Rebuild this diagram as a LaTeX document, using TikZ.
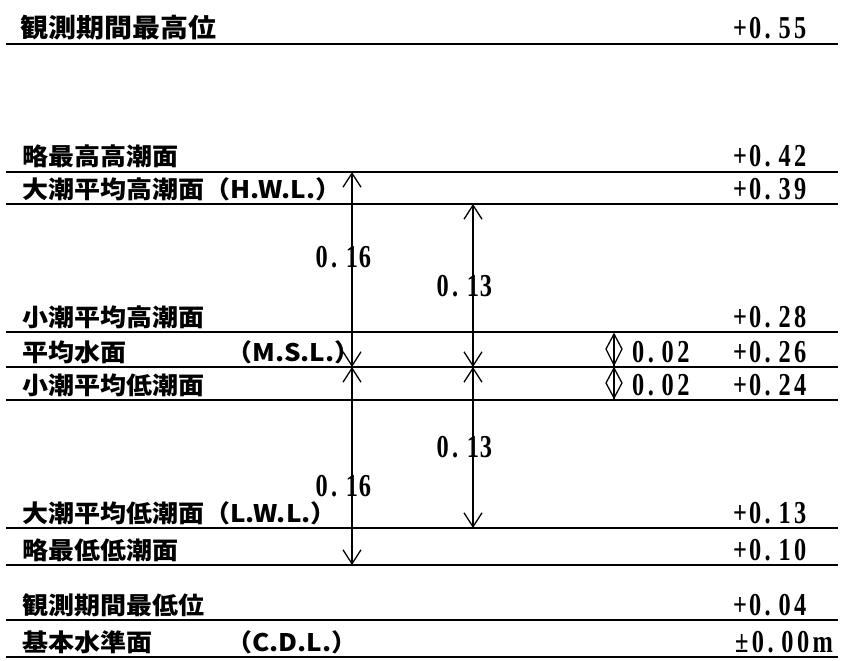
\documentclass[tikz,border=0pt]{standalone}
\usepackage{fontspec}
\usepackage{graphicx}
\usetikzlibrary{arrows.meta}
\newfontfamily\jpfont{Noto Sans CJK JP}
\newfontfamily\numfont{Liberation Serif}[LetterSpace=14]
\newcommand{\jtxt}[2][26]{\scalebox{1}[0.93]{\fontsize{#1}{#1}\selectfont\jpfont\bfseries #2}}
\newcommand{\ntxt}[1]{\scalebox{0.87}[1.14]{\fontsize{28}{28}\selectfont\numfont\bfseries #1}}
\newcommand{\dotgap}{\hspace{0.32em}}
\newcommand{\pl}{+\hspace{0.08em}}
\begin{document}
\begin{tikzpicture}[x=1pt,y=-1pt,
  lvl/.style={line width=1.5pt},
  dimline/.style={line width=1.8pt,
    {Straight Barb[length=14pt,width=18pt,line width'=1.3pt]}-{Straight Barb[length=14pt,width=18pt,line width'=1.3pt]}},
  lab/.style={anchor=south west,inner sep=0pt},
  numlab/.style={anchor=center,inner sep=0pt},
  diam/.style={line width=1.3pt}
  ]
\fill[white] (0,0) rectangle (843,661);
\useasboundingbox (0,0) rectangle (843,661);
% level lines
\foreach \n/\y in {1/44,2/172,3/204,4/332,5/367,6/400,7/528,8/565,9/620,10/657}{
  \coordinate (L\n) at (6,\y);
  \coordinate (R\n) at (838,\y);
  \coordinate (A\n) at (352,\y);
  \coordinate (B\n) at (473,\y);
}
\foreach \n in {1,...,10} \draw[lvl] (L\n) -- (R\n);
% left labels
\node[lab] (t1) at (20,40) {\jtxt[28]{観測期間最高位}};
\node[lab] (t2) at (22,168) {\jtxt{略最高高潮面}};
\node[lab] (t3) at (22,201) {\jtxt{大潮平均高潮面（H.W.L.）}};
\node[lab] (t4) at (22,329) {\jtxt{小潮平均高潮面}};
\node[lab] (t5) at (22,364) {\jtxt{平均水面}};
\node[lab] (t5b) at (226,364) {\jtxt{（M.S.L.）}};
\node[lab] (t6) at (22,397) {\jtxt{小潮平均低潮面}};
\node[lab] (t7) at (22,525) {\jtxt{大潮平均低潮面（L.W.L.）}};
\node[lab] (t8) at (22,562) {\jtxt{略最低低潮面}};
\node[lab] (t9) at (22,617) {\jtxt{観測期間最低位}};
\node[lab] (t10) at (22,654) {\jtxt{基本水準面}};
\node[lab] (t10b) at (226,654) {\jtxt{（C.D.L.）}};
% right values
\node[lab] (v1) at (733,39) {\ntxt{\pl 0.\dotgap55}};
\node[lab] (v2) at (733,167) {\ntxt{\pl 0.\dotgap42}};
\node[lab] (v3) at (733,200) {\ntxt{\pl 0.\dotgap39}};
\node[lab] (v4) at (733,328) {\ntxt{\pl 0.\dotgap28}};
\node[lab] (v5) at (733,363) {\ntxt{\pl 0.\dotgap26}};
\node[lab] (v6) at (733,396) {\ntxt{\pl 0.\dotgap24}};
\node[lab] (v7) at (733,524) {\ntxt{\pl 0.\dotgap13}};
\node[lab] (v8) at (733,561) {\ntxt{\pl 0.\dotgap10}};
\node[lab] (v9) at (733,616) {\ntxt{\pl 0.\dotgap04}};
\node[lab] (v10) at (735,653) {\ntxt{±0.\dotgap00m}};
% small 0.02 markers
\draw[diam] (614,334) -- (606,349) -- (614,365) -- (622,349) -- cycle;
\draw[diam] (614,334) -- (614,367);
\draw[diam] (614,368) -- (606,383) -- (614,398) -- (622,383) -- cycle;
\draw[diam] (614,368) -- (614,400);
\node[lab] (s1) at (632,363) {\ntxt{0.\dotgap02}};
\node[lab] (s2) at (632,396) {\ntxt{0.\dotgap02}};
% dimension arrows
\draw[dimline] (A2) -- (A5);
\draw[dimline] (A5) -- (A8);
\draw[dimline] (B3) -- (B5);
\draw[dimline] (B5) -- (B7);
% dimension labels
\node[numlab] (m1) at (352,257) {\ntxt{\llap{0.\hspace{10pt}}1\rlap{\hspace{1pt}6}}};
\node[numlab] (m2) at (352,486) {\ntxt{\llap{0.\hspace{10pt}}1\rlap{\hspace{1pt}6}}};
\node[numlab] (m3) at (473,286) {\ntxt{\llap{0.\hspace{10pt}}1\rlap{\hspace{1pt}3}}};
\node[numlab] (m4) at (473,447) {\ntxt{\llap{0.\hspace{10pt}}1\rlap{\hspace{1pt}3}}};
\end{tikzpicture}
\end{document}
